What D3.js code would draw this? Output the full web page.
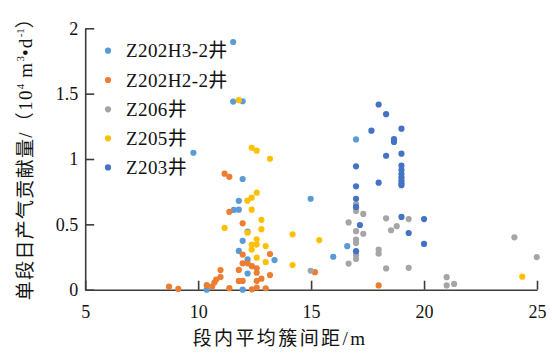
<!DOCTYPE html>
<html>
<head>
<meta charset="utf-8">
<script src="https://cdn.jsdelivr.net/npm/d3@7/dist/d3.min.js"></script>
<style>
    html, body { margin: 0; padding: 0; background: #fff; }
    svg { display: block; }
    text { font-family: "Liberation Serif", "Noto Sans CJK SC", serif; fill: #111; }
</style>
</head>
<body>
<svg id="chart" width="552" height="354"></svg>
<script>
// point data: [cluster spacing m, daily gas 10^4 m3/d]
var seriesNames = ['Z202H3-2井', 'Z202H2-2井', 'Z206井', 'Z205井', 'Z203井'];
var seriesColors = ['#5b9bd5', '#ed7d31', '#a5a5a5', '#ffc000', '#4472c4'];

var wellZ202H3 = [
    [9.79, 1.048], [11.55, 1.895], [11.55, 1.439], [11.97, 1.442], [11.97, 0.847],
    [11.80, 0.680], [11.58, 0.610], [11.80, 0.612], [12.19, 0.445], [11.97, 0.374],
    [11.80, 0.297], [12.19, 0.232], [13.38, 0.227], [12.19, 0.124], [10.38, 0.0],
    [11.97, 0.0], [14.98, 0.696], [15.98, 0.252], [16.60, 0.333], [16.99, 1.150]
];
var wellZ202H2 = [
    [8.71, 0.023], [9.12, 0.006], [10.38, 0.035], [10.62, 0.025], [10.72, 0.055],
    [10.80, 0.078], [10.99, 0.097], [10.99, 0.150], [11.38, 0.012], [11.17, 0.888],
    [11.38, 0.864], [11.38, 0.596], [11.97, 0.508], [11.97, 0.269], [11.97, 0.202],
    [12.19, 0.202], [12.38, 0.180], [12.59, 0.164], [12.59, 0.130], [11.80, 0.151],
    [13.18, 0.273], [13.18, 0.112], [11.80, 0.067], [11.97, 0.067], [12.59, 0.067],
    [12.80, 0.084], [12.38, 0.003], [12.59, 0.017], [12.99, 0.011], [15.17, 0.134],
    [17.99, 0.033]
];
var wellZ206 = [
    [14.98, 0.145], [16.66, 0.515], [16.66, 0.200], [16.99, 0.655], [16.99, 0.628],
    [16.99, 0.603], [16.99, 0.448], [16.99, 0.383], [16.99, 0.357], [16.99, 0.266],
    [16.99, 0.235], [17.31, 0.580], [17.31, 0.428], [17.99, 0.306], [17.99, 0.276],
    [18.32, 0.546], [18.32, 0.163], [18.54, 0.455], [18.79, 0.486], [19.32, 0.540],
    [19.32, 0.167], [21.00, 0.096], [21.00, 0.033], [21.33, 0.044], [24.00, 0.401],
    [24.99, 0.250]
];
var wellZ205 = [
    [11.80, 1.450], [12.37, 1.086], [12.59, 1.064], [13.18, 1.002], [12.59, 0.742],
    [12.37, 0.704], [12.18, 0.681], [12.37, 0.612], [12.80, 0.535], [12.80, 0.463],
    [11.17, 0.473], [12.19, 0.436], [12.59, 0.386], [12.37, 0.345], [12.59, 0.345],
    [12.99, 0.334], [12.37, 0.307], [12.59, 0.245], [12.99, 0.212], [14.18, 0.424],
    [14.18, 0.189], [15.36, 0.380], [24.35, 0.100]
];
var wellZ203 = [
    [16.99, 0.944], [16.99, 0.791], [16.99, 0.696], [16.99, 0.633], [16.99, 0.295],
    [17.16, 0.495], [17.67, 1.217], [17.99, 1.417], [17.99, 0.819], [18.32, 1.343],
    [18.32, 1.025], [18.67, 1.152], [18.67, 1.131], [19.00, 1.232], [19.00, 1.041],
    [19.00, 0.949], [19.00, 0.915], [19.00, 0.885], [19.00, 0.860], [19.00, 0.835],
    [19.00, 0.815], [19.00, 0.800], [19.00, 0.557], [19.32, 0.434], [20.00, 0.540],
    [20.00, 0.350]
];

var xTicks = [5, 10, 15, 20, 25];
var yTicks = [0, 0.5, 1, 1.5, 2];

(function(){
'use strict';

    var svg = d3.select('#chart');
    var axisColor = '#3c3c3c';

    var x = d3.scaleLinear().domain([5, 25]).range([85.2, 537]),
        y = d3.scaleLinear().domain([0, 2]).range([289.7, 28.3]);

    var allSeries = [wellZ202H3, wellZ202H2, wellZ206, wellZ205, wellZ203].map(function(pts, i) {
        return {name: seriesNames[i], color: seriesColors[i], points: pts};
    });

    // axes, ticks point inward like the original
    var xAxis = d3.axisBottom(x).tickValues(xTicks).tickSize(-9).tickSizeOuter(0).tickPadding(16)
        .tickFormat(function(d) { return String(d); });
    var yAxis = d3.axisLeft(y).tickValues(yTicks).tickSize(-9).tickSizeOuter(0).tickPadding(7)
        .tickFormat(function(d) { return String(d); });

    var gx = svg.append('g').attr('transform', 'translate(0,' + y(0) + ')').call(xAxis);
    var gy = svg.append('g').attr('transform', 'translate(' + x(5) + ',0)').call(yAxis);

    [gx, gy].forEach(function(g) {
        g.select('.domain').attr('stroke', axisColor).attr('stroke-width', 1.6);
        g.selectAll('.tick line').attr('stroke', axisColor).attr('stroke-width', 1.6);
        g.selectAll('.tick text')
            .attr('fill', '#111')
            .style('font-family', '"Liberation Serif", serif')
            .style('font-size', '18px');
    });

    // scatter points, series drawn in legend order so later ones sit on top
    var groups = svg.selectAll('g.series').data(allSeries).enter().append('g')
        .attr('class', 'series');
    groups.selectAll('circle').data(function(d) { return d.points.map(function(p) { return {p: p, c: d.color}; }); })
        .enter().append('circle')
        .attr('cx', function(d) { return x(d.p[0]); })
        .attr('cy', function(d) { return y(d.p[1]); })
        .attr('r', 3.1)
        .attr('fill', function(d) { return d.c; });

    // legend
    var legendRows = [50.7, 80, 109.3, 138.3, 167.4];
    var legend = svg.selectAll('g.legend').data(allSeries).enter().append('g')
        .attr('class', 'legend')
        .attr('transform', function(d, i) { return 'translate(108,' + legendRows[i] + ')'; });
    legend.append('circle').attr('r', 3.1).attr('fill', function(d) { return d.color; });
    legend.append('text')
        .attr('x', 18)
        .attr('dy', '0.35em')
        .style('font-size', '19px')
        .style('letter-spacing', '0.4px')
        .text(function(d) { return d.name; });

    // axis titles
    svg.append('text')
        .attr('x', 280)
        .attr('y', 345)
        .attr('text-anchor', 'middle')
        .style('font-size', '19px')
        .style('letter-spacing', '2.4px')
        .text('段内平均簇间距/m');

    var yTitle = svg.append('text')
        .attr('transform', 'translate(32,154) rotate(-90)')
        .attr('text-anchor', 'middle')
        .style('font-size', '19px');
    var parts = [
        {t: '单段日产气贡献量/（10'},
        {t: '4', sup: true},
        {t: ' m'},
        {t: '3', sup: true},
        {t: '•d'},
        {t: '-1', sup: true},
        {t: '）'}
    ];
    var prevSup = false;
    parts.forEach(function(p) {
        var ts = yTitle.append('tspan').text(p.t);
        if (p.sup) ts.attr('dy', -8).style('font-size', '11px');
        else if (prevSup) ts.attr('dy', 8);
        if (!p.sup) ts.style('letter-spacing', '1.3px');
        prevSup = !!p.sup;
    });
})();
</script>
</body>
</html>
